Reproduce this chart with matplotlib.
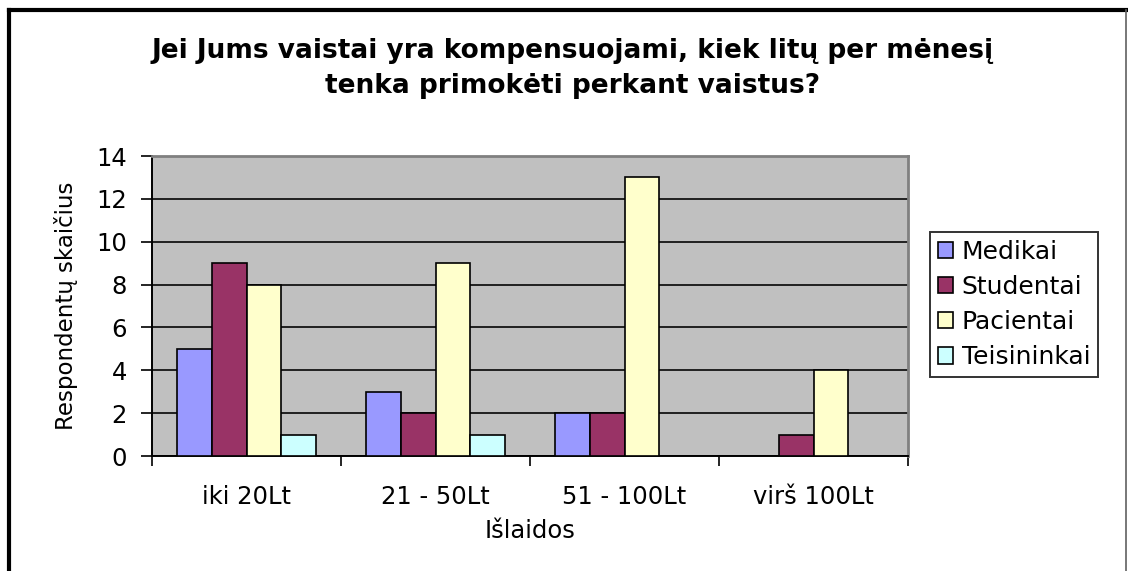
import numpy as np
import matplotlib.pyplot as plt
from matplotlib.lines import Line2D

plt.rcParams['font.family'] = ['DejaVu Sans']

# data
categories = ["iki 20Lt", "21 - 50Lt", "51 - 100Lt", "virš 100Lt"]
series = ["Medikai", "Studentai", "Pacientai", "Teisininkai"]
medikai = [5, 3, 2, 0]
studentai = [9, 2, 2, 1]
pacientai = [8, 9, 13, 4]
teisininkai = [1, 1, 0, 0]
colors = ["#9999FF", "#993366", "#FFFFCC", "#CCFFFF"]

values = [medikai, studentai, pacientai, teisininkai]

fig = plt.figure(figsize=(11.28, 5.71), dpi=100)
ax = fig.add_axes([152 / 1128, 1 - 456 / 571, 756 / 1128, 300 / 571])
ax.set_facecolor("#C0C0C0")

x = np.arange(len(categories))
w = 0.183
for i, (name, vals, c) in enumerate(zip(series, values, colors)):
    ax.bar(x + (i - 1.5) * w, vals, w, color=c, edgecolor="black",
           linewidth=1.2, label=name, zorder=3)

ax.set_xlim(-0.5, 3.5)
ax.set_ylim(0, 14)
ax.set_yticks(range(0, 15, 2))
ax.yaxis.grid(True, color="#202020", linewidth=1.4, zorder=1)
ax.set_axisbelow(True)

ax.set_xticks(x)
ax.set_xticklabels(categories)
ax.set_xticks(np.arange(-0.5, 4, 1), minor=True)
ax.tick_params(axis="x", which="major", length=0, pad=21, labelsize=17.5)
ax.tick_params(axis="x", which="minor", length=7, width=1.2, direction="out")
ax.tick_params(axis="y", length=8, width=1.2, direction="out", labelsize=17.5, pad=10)

for s in ["top", "right"]:
    ax.spines[s].set_color("#808080")
    ax.spines[s].set_linewidth(2)
for s in ["left", "bottom"]:
    ax.spines[s].set_color("black")
    ax.spines[s].set_linewidth(1.4)

ax.set_xlabel("Išlaidos", fontsize=17.5, labelpad=7)
ax.set_ylabel("Respondentų skaičius", fontsize=16.5, labelpad=13)

fig.text(0.508, 1 - 51 / 571, "Jei Jums vaistai yra kompensuojami, kiek litų per mėnesį",
         ha="center", va="center", fontsize=19, fontweight="bold")
fig.text(0.508, 1 - 86 / 571, "tenka primokėti perkant vaistus?",
         ha="center", va="center", fontsize=19, fontweight="bold")

leg = fig.legend(loc="upper left", bbox_to_anchor=(930 / 1128, 1 - 232 / 571),
                 fontsize=18, frameon=True, fancybox=False, edgecolor="black",
                 handlelength=0.62, handleheight=0.62, handletextpad=0.35,
                 labelspacing=0.45, borderpad=0.3, borderaxespad=0)
leg.get_frame().set_linewidth(1.4)

# chart border
fig.add_artist(Line2D([9 / 1128, 9 / 1128], [-0.05, 1 - 9.5 / 571], color="black",
                      linewidth=3, transform=fig.transFigure, solid_capstyle="projecting"))
fig.add_artist(Line2D([9 / 1128, 1126 / 1128], [1 - 9.5 / 571, 1 - 9.5 / 571], color="black",
                      linewidth=3, transform=fig.transFigure))
fig.add_artist(Line2D([1126 / 1128, 1126 / 1128], [-0.05, 1 - 9.5 / 571], color="#606060",
                      linewidth=1.2, transform=fig.transFigure))

fig.savefig("out.png", dpi=100)
